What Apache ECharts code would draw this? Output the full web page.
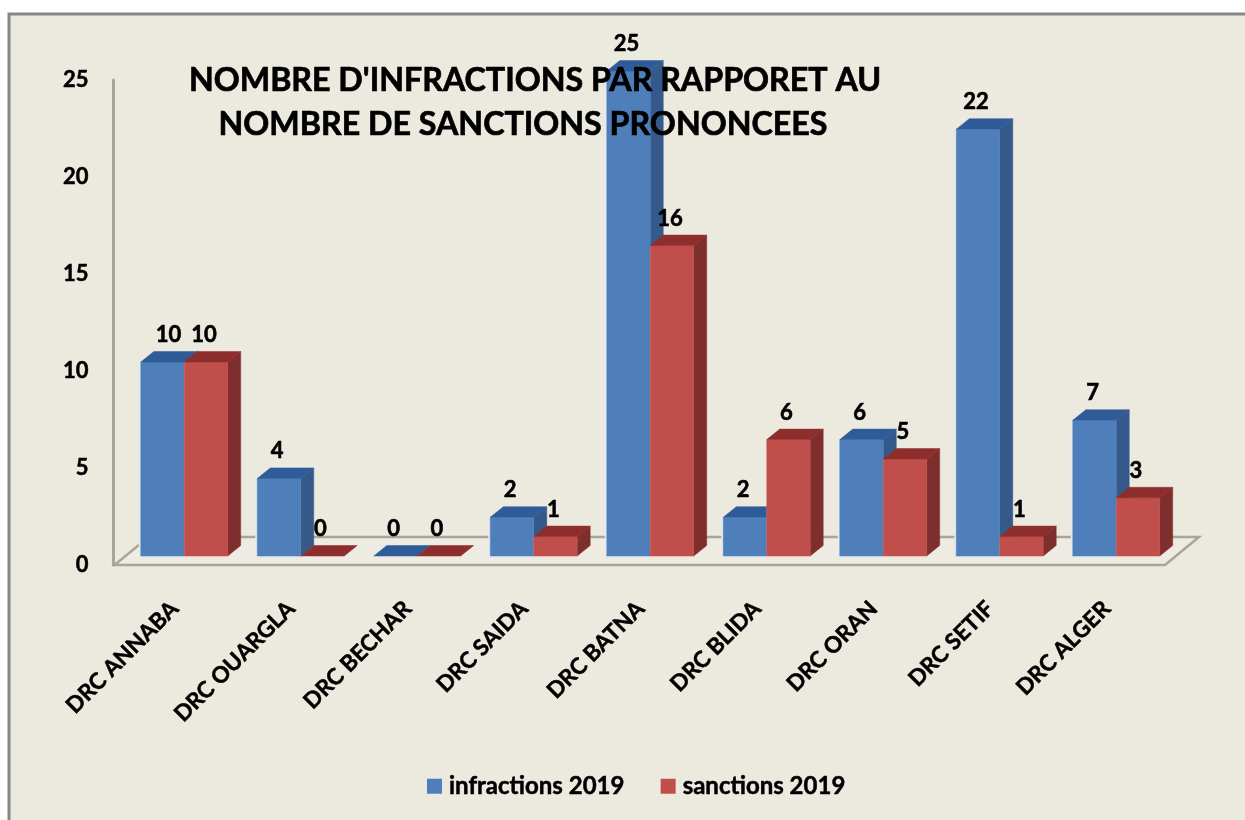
<!DOCTYPE html>
<html><head><meta charset="utf-8">
<style>html,body{margin:0;padding:0;background:#fff}#c{width:1245px;height:820px}</style>
<script src="https://cdn.jsdelivr.net/npm/echarts@6/dist/echarts.min.js"></script>
</head><body><div id="c"></div>
<script>
const categories = ['DRC ANNABA','DRC OUARGLA','DRC BECHAR','DRC SAIDA','DRC BATNA','DRC BLIDA','DRC ORAN','DRC SETIF','DRC ALGER'];
const infractions = [10,4,0,2,25,2,6,22,7];
const sanctions = [10,0,0,1,16,6,5,1,3];
const seriesNames = ['infractions 2019','sanctions 2019'];
const titleLines = ["NOMBRE D'INFRACTIONS PAR RAPPORET AU","NOMBRE DE SANCTIONS PRONONCEES"];

const FONT = 'Lato';
const BASE_DX = 9.5, BASE_DY = -9, DEPTH_X = 13, DEPTH_Y = 10.5, BAR_RATIO = 0.373;
const palette = [
  {front:'#4F7FBB', side:'#35598A', top:'#2F5C98', halo:'#E4EAF0'},
  {front:'#C04F4C', side:'#7E2F2D', top:'#8E2E2C', halo:'#F2E4DE'}
];
const heavy = {textBorderColor:'#000', textBorderWidth:0.7};

function barRenderer(sIdx){
  const c = palette[sIdx];
  return function(params, api){
    const i = api.value(0), v = api.value(1);
    const top = api.coord([i, v]), base = api.coord([i, 0]);
    const w = api.size([1, 0])[0] * BAR_RATIO;
    const x0 = top[0] + BASE_DX + (sIdx === 0 ? -w : 0), x1 = x0 + w;
    const yT = top[1] + BASE_DY, yB = base[1] + BASE_DY;
    const kids = [];
    const poly = (pts, fill, z) => ({type:'polygon', z2:z, shape:{points:pts},
      style:{fill:fill, stroke:fill, lineWidth:0.5}});
    if (v > 0) {
      const hx = sIdx === 0 ? x0 - 2 : x0;
      kids.push({type:'rect', z2:1, shape:{x:hx, y:yT, width:x1 - hx, height:yB - yT + 2},
        style:{fill:c.halo}});
      kids.push(poly([[x1,yT],[x1+DEPTH_X,yT-DEPTH_Y],[x1+DEPTH_X,yB-DEPTH_Y],[x1,yB]], c.side, 2));
      kids.push(poly([[x0,yT],[x1,yT],[x1,yB],[x0,yB]], c.front, 3));
    }
    kids.push(poly([[x0,yT],[x1,yT],[x1+DEPTH_X,yT-DEPTH_Y],[x0+DEPTH_X,yT-DEPTH_Y]], c.top, 4));
    return {type:'group', children:kids};
  };
}
function labelRenderer(sIdx){
  return function(params, api){
    const i = api.value(0), v = api.value(1);
    const top = api.coord([i, v]);
    const w = api.size([1, 0])[0] * BAR_RATIO;
    let cx = top[0] + BASE_DX + (sIdx === 0 ? -w/2 : w/2) - 2;
    if (sIdx === 0 && i === 0) cx += 8;
    return {type:'text', style:Object.assign({x:cx, y:top[1] + BASE_DY - 27, text:String(v),
      font:'bold 22px '+FONT, fill:'#000', align:'center', verticalAlign:'middle'}, {stroke:'#000', lineWidth:0.6})};
  };
}
function floorRenderer(params, api){
  const cs = params.coordSys;
  const yF = cs.y + cs.height, xL = cs.x - 2, xR = cs.x + cs.width;
  const yBack = yF - 28, dx = 34;
  return {type:'polygon', shape:{points:[[xL,yF],[xR,yF],[xR+dx,yBack],[xL+dx,yBack]]},
      style:{fill:'#EEEBE3', stroke:'#A9A698', lineWidth:2.5}};
}
const toData = arr => arr.map((v,i)=>[i,v]);
const titleStyle = Object.assign({fontFamily:FONT, fontWeight:'bold', fontSize:32.2, lineHeight:44, color:'#000'}, heavy);
const chart = echarts.init(document.getElementById('c'), null, {renderer:'canvas'});
chart.setOption({
  animation:false,
  backgroundColor:'#fff',
  textStyle:{fontFamily:FONT},
  graphic:[{type:'rect', z:-1, shape:{x:9,y:14,width:1300,height:900},
    style:{fill:'#ECE9DF', stroke:'#868686', lineWidth:3}}],
  title:[
    {text:titleLines[0], left:530, top:53.5, textAlign:'center', z:20, textStyle:titleStyle},
    {text:titleLines[1], left:518, top:98, textAlign:'center', z:20, textStyle:titleStyle}
  ],
  legend:{left:422, top:769, itemWidth:15, itemHeight:15, itemGap:36, icon:'rect',
    data:seriesNames, textStyle:Object.assign({fontFamily:FONT, fontWeight:'bold', fontSize:24, color:'#000', padding:[0,0,0,2]}, {textBorderColor:'#000', textBorderWidth:0.5})},
  grid:{left:116.5, top:80, width:1048.5, height:485, containLabel:false},
  xAxis:{type:'category', data:categories, axisTick:{show:false},
    axisLine:{show:false},
    axisLabel:Object.assign({rotate:45, interval:0, margin:40, color:'#000', fontFamily:FONT, fontWeight:'bold', fontSize:22.5}, {textBorderColor:'#000', textBorderWidth:0.5})},
  yAxis:{type:'value', min:0, max:25, interval:5, offset:3, splitLine:{show:false}, axisTick:{show:false},
    axisLine:{show:true, lineStyle:{color:'#A9A698', width:3}},
    axisLabel:Object.assign({margin:25, color:'#000', fontFamily:FONT, fontWeight:'bold', fontSize:22, padding:[6,0,0,0]}, {textBorderColor:'#000', textBorderWidth:0.5})},
  series:[
    {type:'custom', name:'floor', z:1, silent:true, data:[[0,0]], encode:{x:0,y:1}, renderItem:floorRenderer},
    {type:'custom', name:seriesNames[0], z:3, itemStyle:{color:palette[0].front}, data:toData(infractions), encode:{x:0,y:1}, renderItem:barRenderer(0)},
    {type:'custom', name:seriesNames[1], z:4, itemStyle:{color:palette[1].front}, data:toData(sanctions), encode:{x:0,y:1}, renderItem:barRenderer(1)},
    {type:'custom', name:'labels0', z:10, silent:true, data:toData(infractions), encode:{x:0,y:1}, renderItem:labelRenderer(0)},
    {type:'custom', name:'labels1', z:10, silent:true, data:toData(sanctions), encode:{x:0,y:1}, renderItem:labelRenderer(1)}
  ]
});
</script></body></html>
